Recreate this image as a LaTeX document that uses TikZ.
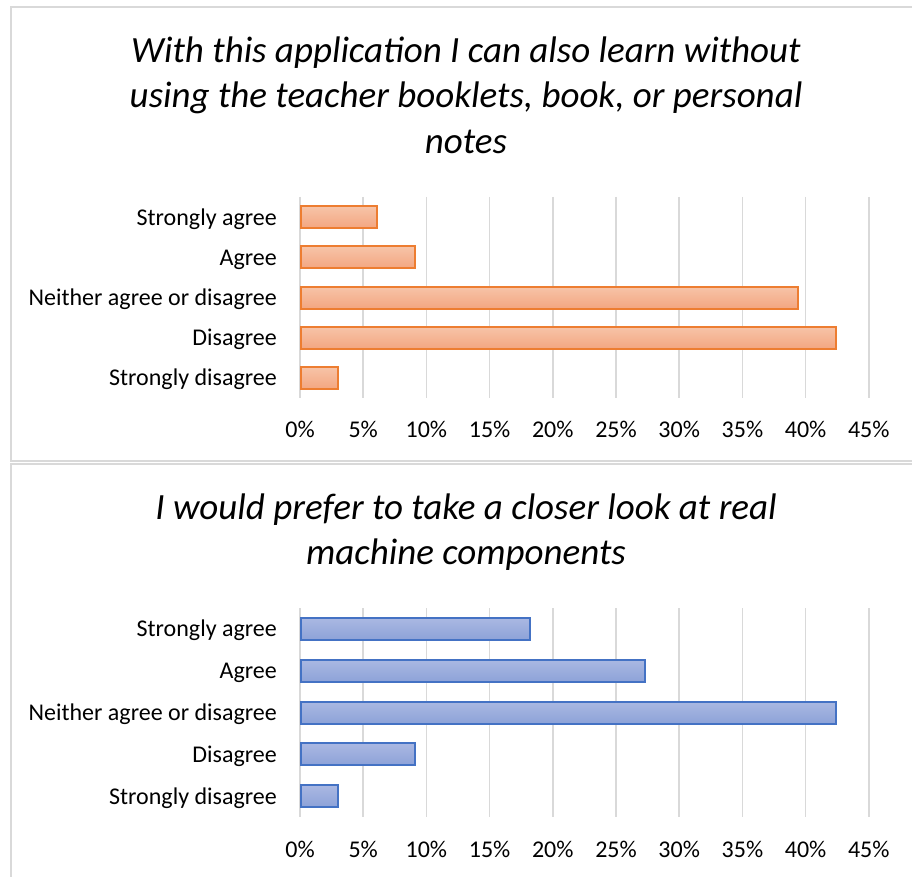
\documentclass[tikz,border=0pt]{standalone}
\usepackage{fontspec}
\setmainfont{Carlito}
\definecolor{gridgray}{HTML}{D9D9D9}
\definecolor{framegray}{HTML}{D9D9D9}
\definecolor{orangeline}{HTML}{ED7D31}
\definecolor{orangetop}{HTML}{F7C4A8}
\definecolor{orangebot}{HTML}{F3A681}
\definecolor{blueline}{HTML}{4472C4}
\definecolor{bluetop}{HTML}{AAB8E2}
\definecolor{bluebot}{HTML}{8DA2D8}
\tikzset{
  frame/.style={draw=framegray, line width=1.5pt},
  gridln/.style={draw=gridgray, line width=1.5pt},
  catlabel/.style={anchor=base east, inner sep=0pt, font=\fontsize{24}{28}\selectfont},
  ticklabel/.style={anchor=base, inner sep=0pt, font=\fontsize{24}{28}\selectfont},
  titleline/.style={anchor=base, inner sep=0pt, font=\fontsize{37}{45}\selectfont\itshape},
  obar/.style={draw=orangeline, line width=2pt, top color=orangetop, bottom color=orangebot},
  bbar/.style={draw=blueline, line width=2pt, top color=bluetop, bottom color=bluebot}
}
\begin{document}
\begin{tikzpicture}[x=1pt,y=-1pt]
\useasboundingbox (0,0) rectangle (912,877);
\fill[white] (0,0) rectangle (912,877);
\clip (0,0) rectangle (912,877);
% frames
\draw[frame] (11,7) rectangle (940,461);
\draw[frame] (11,464) rectangle (940,900);

% ---------- top chart ----------
\node[titleline] (t1a) at (466,63) {With this application I can also learn without};
\node[titleline] (t1b) at (466,108) {using the teacher booklets, book, or personal};
\node[titleline] (t1c) at (466,154) {notes};
\foreach \i in {0,...,9} {
  \draw[gridln] ({300+63.2*\i},197) -- ({300+63.2*\i},398);
  \pgfmathtruncatemacro{\pc}{5*\i}
  \node[ticklabel] (tx1-\i) at ({300+63.2*\i},437) {\pc\%};
}
\foreach \k/\lab/\v in {0/Strongly agree/2, 1/Agree/3, 2/Neither agree or disagree/13, 3/Disagree/14, 4/Strongly disagree/1} {
  \pgfmathsetmacro{\c}{217.1+40.2*\k}
  \node[catlabel] (c1-\k) at (277,\c+8) {\lab};
  \draw[obar] (301,\c-11) rectangle ({300+38.303*\v},\c+11);
}

% ---------- bottom chart ----------
\node[titleline] (t2a) at (466,519) {I would prefer to take a closer look at real};
\node[titleline] (t2b) at (466,564) {machine components};
\foreach \i in {0,...,9} {
  \draw[gridln] ({300+63.2*\i},608) -- ({300+63.2*\i},817);
  \pgfmathtruncatemacro{\pc}{5*\i}
  \node[ticklabel] (tx2-\i) at ({300+63.2*\i},857) {\pc\%};
}
\foreach \k/\lab/\v in {0/Strongly agree/6, 1/Agree/9, 2/Neither agree or disagree/14, 3/Disagree/3, 4/Strongly disagree/1} {
  \pgfmathsetmacro{\c}{628.9+41.8*\k}
  \node[catlabel] (c2-\k) at (277,\c+8) {\lab};
  \draw[bbar] (301,\c-11) rectangle ({300+38.303*\v},\c+11);
}
\end{tikzpicture}
\end{document}
